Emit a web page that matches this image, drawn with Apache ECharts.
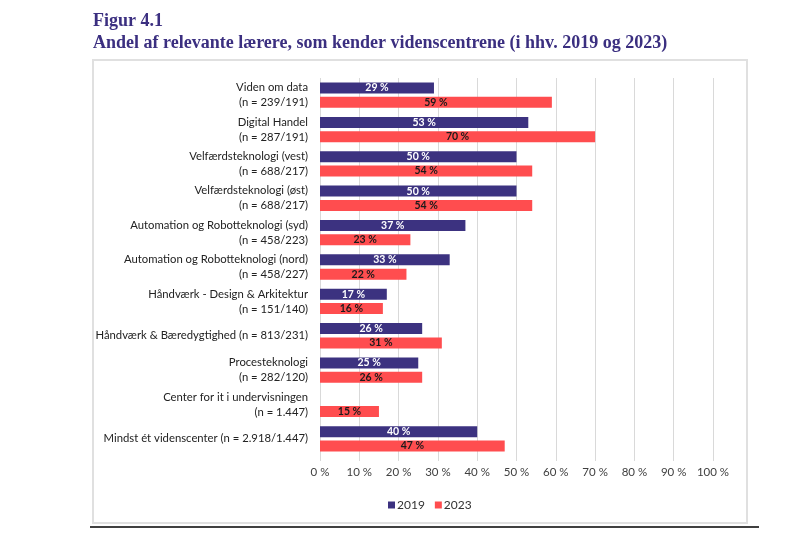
<!DOCTYPE html>
<html>
<head>
<meta charset="utf-8">
<script src="https://cdn.jsdelivr.net/npm/echarts@6/dist/echarts.min.js"></script>
<style>
html,body{margin:0;padding:0;background:#fff;}
#chart{width:799px;height:536px;}
</style>
</head>
<body>
<div id="chart"></div>
<script>
const categories = [
  "Viden om data\n(n = 239/191)",
  "Digital Handel\n(n = 287/191)",
  "Velfærdsteknologi (vest)\n(n = 688/217)",
  "Velfærdsteknologi (øst)\n(n = 688/217)",
  "Automation og Robotteknologi (syd)\n(n = 458/223)",
  "Automation og Robotteknologi (nord)\n(n = 458/227)",
  "Håndværk - Design & Arkitektur\n(n = 151/140)",
  "Håndværk & Bæredygtighed (n = 813/231)",
  "Procesteknologi\n(n = 282/120)",
  "Center for it i undervisningen\n(n = 1.447)",
  "Mindst ét videnscenter (n = 2.918/1.447)"
];
const values2019 = [29, 53, 50, 50, 37, 33, 17, 26, 25, null, 40];
const values2023 = [59, 70, 54, 54, 23, 22, 16, 31, 26, 15, 47];
const seriesNames = ["2019", "2023"];
const titleLine1 = "Figur 4.1";
const titleLine2 = "Andel af relevante lærere, som kender videnscentrene (i hhv. 2019 og 2023)";

const chart = echarts.init(document.getElementById('chart'));
const font = 'Lato, "Open Sans", sans-serif';
chart.setOption({
  animation: false,
  backgroundColor: '#fff',
  graphic: [
    { type: 'rect', shape: { x: 93, y: 60, width: 654, height: 463 },
      style: { fill: 'none', stroke: '#e0e0e0', lineWidth: 2 }, z: -1 },
    { type: 'line', shape: { x1: 90, y1: 527, x2: 759, y2: 527 },
      style: { stroke: '#000', lineWidth: 1.5 } },
    { type: 'text', left: 93, top: 12,
      style: { text: titleLine1, font: 'bold 18px "Liberation Serif", serif', fill: '#3b2f80' } },
    { type: 'text', left: 93, top: 34,
      style: { text: titleLine2, font: 'bold 18px "Liberation Serif", serif', fill: '#3b2f80' } }
  ],
  legend: {
    data: seriesNames,
    left: 383, top: 494,
    itemWidth: 7, itemHeight: 7, itemGap: 10,
    textStyle: { fontFamily: font, fontSize: 12, color: '#333', padding: [0,0,0,-3] },
    icon: 'rect'
  },
  grid: { left: 320, right: 86, top: 78, bottom: 80, containLabel: false },
  xAxis: {
    type: 'value', min: 0, max: 100, interval: 10,
    axisLabel: { formatter: '{value} %', fontFamily: font, fontSize: 11.5, color: '#404040', margin: 10 },
    axisLine: { show: false },
    axisTick: { show: true, length: 5, lineStyle: { color: '#d9d9d9' } },
    splitLine: { show: true, lineStyle: { color: '#d9d9d9', width: 1 } }
  },
  yAxis: {
    type: 'category', data: categories, inverse: true,
    axisLine: { show: false },
    axisTick: { show: false },
    axisLabel: { fontFamily: font, fontSize: 11.3, color: '#222', lineHeight: 15, margin: 12, align: 'right' }
  },
  series: [
    { name: seriesNames[0], type: 'bar', data: values2019, barWidth: 11, barGap: '30%',
      itemStyle: { color: '#3c3280' },
      label: { show: true, position: 'inside', formatter: '{c} %', color: '#fff',
        fontFamily: font, fontSize: 10.5, fontWeight: 'bold' } },
    { name: seriesNames[1], type: 'bar', data: values2023, barWidth: 11, barGap: '30%',
      itemStyle: { color: '#ff4d4f' },
      label: { show: true, position: 'inside', formatter: '{c} %', color: '#1a1a1a',
        fontFamily: font, fontSize: 10.5, fontWeight: 'bold' } }
  ]
});
</script>
</body>
</html>
